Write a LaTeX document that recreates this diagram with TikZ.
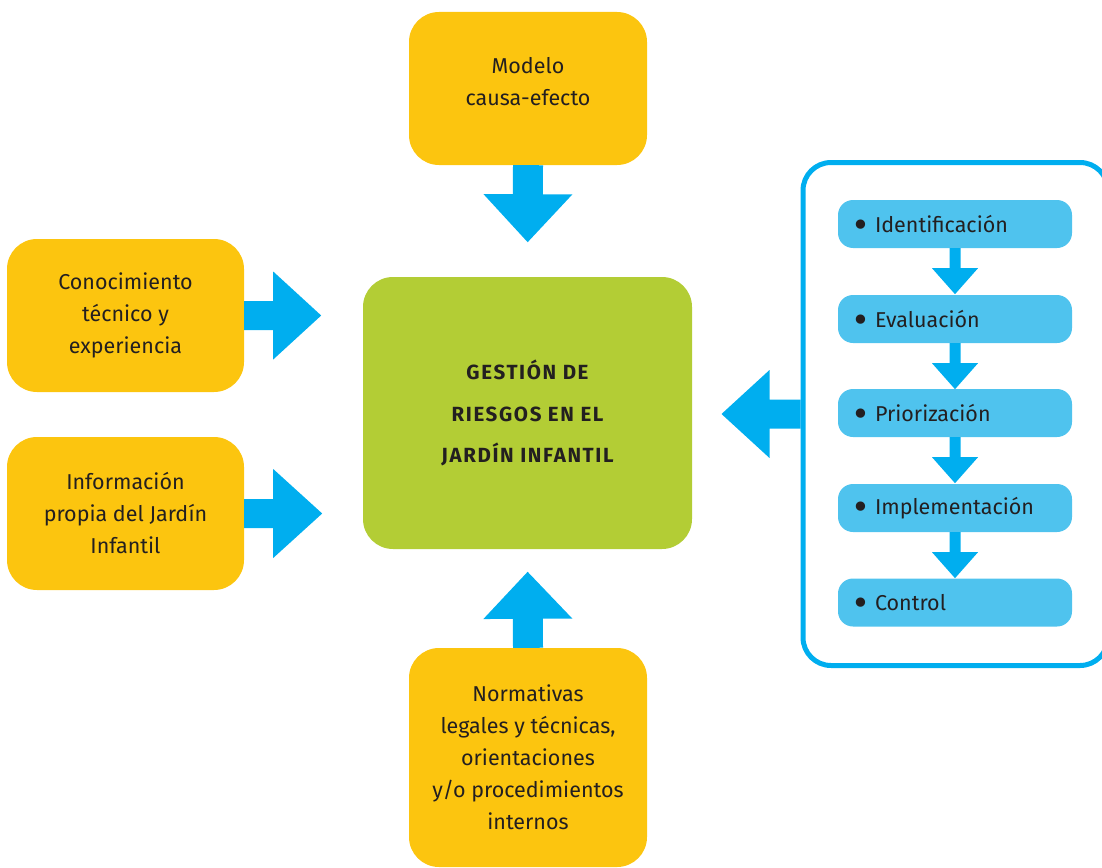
\documentclass[tikz,border=0pt]{standalone}
\usepackage{fontspec}
\setmainfont{Fira Sans}
\newfontfamily\dotfont{DejaVu Sans}
\usetikzlibrary{calc}

\definecolor{boxyellow}{HTML}{FCC50F}
\definecolor{boxgreen}{HTML}{B3CD35}
\definecolor{arrowblue}{HTML}{00AEEF}
\definecolor{steplight}{HTML}{4FC3EE}
\definecolor{inktext}{HTML}{231F20}

% bullet in front of each step
\newcommand{\stepdot}{\makebox[14pt][l]{\hspace{-9.5pt}\smash{\raisebox{-4.5pt}{\dotfont\fontsize{32}{26}\selectfont •}}}}

% Block arrow from #1 to the tip #2: shaft half width #3, head half width #4, head length #5
\newcommand{\blockarrow}[5]{%
  \path ($(#2)!#5!(#1)$) coordinate (ahb);
  \fill[arrowblue] ($(#1)!#3!90:(#2)$) -- ($(ahb)!#3!90:(#2)$) -- ($(ahb)!#4!90:(#2)$)
    -- (#2) -- ($(ahb)!#4!-90:(#2)$) -- ($(ahb)!#3!-90:(#2)$) -- ($(#1)!#3!-90:(#2)$) -- cycle;}

\tikzset{
  every node/.style={text=inktext},
  inbox/.style={fill=boxyellow, rounded corners=30pt, inner sep=0pt,
    align=center, font=\fontsize{21.5}{32}\selectfont},
  mainbox/.style={fill=boxgreen, rounded corners=30pt, inner sep=0pt,
    align=center, minimum width=329pt, minimum height=272pt,
    font=\fontsize{20.5}{41.5}\selectfont\bfseries\addfontfeatures{LetterSpace=8}},
  stepbox/.style={fill=steplight, rounded corners=15pt, inner sep=0pt,
    minimum width=234pt, minimum height=48pt, text width=188pt, align=left,
    font=\fontsize{21.5}{26}\selectfont},
  panel/.style={draw=arrowblue, line width=5pt, rounded corners=28pt,
    minimum width=305pt, minimum height=503pt, inner sep=0pt},
}

\begin{document}
\begin{tikzpicture}[x=1pt, y=-1pt]
\useasboundingbox (0,0) rectangle (1102,867);

% central topic
\node[mainbox] (cen) at (527.5,413) {GESTIÓN DE\\RIESGOS EN EL\\JARDÍN INFANTIL};

% inputs
\node[inbox, minimum width=238pt, minimum height=153pt] (top) at (528,88.5) {};
\node[align=center, font=\fontsize{21.5}{32}\selectfont] (toptext) at (528,82) {Modelo\\causa-efecto};
\node[inbox, minimum width=237pt, minimum height=153pt] (know) at (125.5,315.5)
  {Conocimiento\\técnico y\\experiencia};
\node[inbox, minimum width=237pt, minimum height=153pt] (info) at (125.5,513.5)
  {Información\\propia del Jardín\\Infantil};
\node[inbox, minimum width=238pt, minimum height=219pt] (norm) at (528,757.5)
  {Normativas\\legales y técnicas,\\orientaciones\\y/o procedimientos\\internos};

% process panel
\node[panel] (frame) at (955.5,414) {};
\node[stepbox] (s1) at (955,224) {\stepdot Identificación};
\node[stepbox] (s2) at (955,319) {\stepdot Evaluación};
\node[stepbox] (s3) at (955,413) {\stepdot Priorización};
\node[stepbox] (s4) at (955,508) {\stepdot Implementación};
\node[stepbox] (s5) at (955,602.5) {\stepdot Control};

% arrow tips
\coordinate (ttop)  at ($(top.south)!77pt!(cen.north)$);
\coordinate (tknow) at ($(know.east)!77pt!(know.east-|cen.west)$);
\coordinate (tinfo) at ($(info.east)!78pt!(info.east-|cen.west)$);
\coordinate (tnorm) at ($(norm.north)!76pt!(cen.south)$);
\coordinate (tpanel) at ($(frame.west)!79pt!(frame.west-|cen.east)$);

% big arrows into the central topic
\blockarrow{top.south}{ttop}{15pt}{44.5pt}{48pt}
\blockarrow{know.east}{tknow}{14.5pt}{44pt}{48pt}
\blockarrow{info.east}{tinfo}{14.5pt}{44.5pt}{49pt}
\blockarrow{norm.north}{tnorm}{15pt}{44.5pt}{47pt}
\blockarrow{frame.west}{tpanel}{14.5pt}{44pt}{48pt}

% small arrows between the steps
\foreach \a/\b in {s1/s2, s2/s3, s3/s4, s4/s5}{
  \coordinate (tip-\a) at ($(\a.south)!46pt!(\b.north)$);
  \blockarrow{\a.south}{tip-\a}{5.5pt}{23pt}{26pt}
}
\end{tikzpicture}
\end{document}
